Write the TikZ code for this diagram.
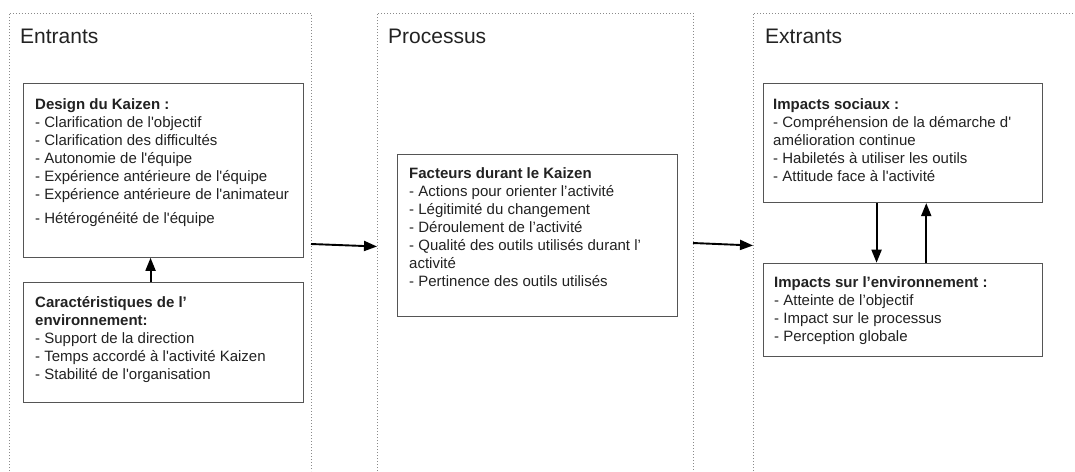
\documentclass[tikz,border=0pt]{standalone}
\usepackage{fontspec}
\setmainfont{Liberation Sans}[Ligatures=TeXOff]
\usetikzlibrary{arrows.meta}
\definecolor{ink}{HTML}{222222}
\definecolor{boxline}{HTML}{555555}
\definecolor{dotline}{HTML}{8A8A8A}
\newcommand{\fl}{\rule{0pt}{12pt}}
\tikzset{
  panel/.style={draw=dotline, line width=0.9pt, dash pattern=on 0.9pt off 2.1pt},
  kbox/.style={draw=boxline, line width=1.1pt, fill=white, inner sep=0pt, anchor=north west},
  ktext/.style={inner sep=0pt, anchor=north west, align=left, text=ink,
                font={\fontsize{15}{18}\selectfont}},
  ptitle/.style={inner sep=0pt, anchor=base west, text=ink,
                 font={\fontsize{21}{25}\selectfont}},
  arr/.style={line width=1.9pt, -{Triangle[length=13pt,width=10pt]}}
}
\begin{document}
\begin{tikzpicture}[x=1pt,y=-1pt]
\useasboundingbox (0,0) rectangle (1075,471);

% three dotted panels, open at the bottom
\draw[panel] (9,471) -- (9,13) -- (311,13) -- (311,471);
\draw[panel] (377,471) -- (377,13) -- (693,13) -- (693,471);
\draw[panel] (753,471) -- (753,13) -- (1080,13);

\node[ptitle] (tin)   at (20,43)  {Entrants};
\node[ptitle] (tproc) at (388,43) {Processus};
\node[ptitle] (tout)  at (765,43) {Extrants};

% inputs
\node[kbox, minimum width=279.4pt, minimum height=174pt] (design) at (23.3,82.7) {};
\node[ktext] (designtxt) at (35,97) {\fl\textbf{Design du Kaizen :}\\
- Clarification de l'objectif\\
- Clarification des difficultés\\
- Autonomie de l'équipe\\
- Expérience antérieure de l'équipe\\
- Expérience antérieure de l'animateur\\[6pt]
- Hétérogénéité de l'équipe};

\node[kbox, minimum width=279.4pt, minimum height=120pt] (env) at (23.3,282.3) {};
\node[ktext] (envtxt) at (35,295.5) {\fl\textbf{Caractéristiques de l’}\\
\textbf{environnement:}\\
- Support de la direction\\
- Temps accordé à l'activité Kaizen\\
- Stabilité de l'organisation};

% process
\node[kbox, minimum width=280pt, minimum height=162.3pt] (fact) at (397.3,153.7) {};
\node[ktext] (facttxt) at (409,166) {\fl\textbf{Facteurs durant le Kaizen}\\
- Actions pour orienter l’activité\\
- Légitimité du changement\\
- Déroulement de l’activité\\
- Qualité des outils utilisés durant l’\\
activité\\
- Pertinence des outils utilisés};

% outputs
\node[kbox, minimum width=278.4pt, minimum height=119.3pt] (soc) at (763.3,82.7) {};
\node[ktext] (soctxt) at (773,97) {\fl\textbf{Impacts sociaux :}\\
- Compréhension de la démarche d'\\
amélioration continue\\
- Habiletés à utiliser les outils\\
- Attitude face à l'activité};

\node[kbox, minimum width=278.4pt, minimum height=93pt] (envi) at (763.3,262.7) {};
\node[ktext] (envitxt) at (774,275.5) {\fl\textbf{Impacts sur l’environnement :}\\
- Atteinte de l’objectif\\
- Impact sur le processus\\
- Perception globale};

% connectors
\coordinate (a1s) at (311,244);
\coordinate (a1e) at (377,246.5);
\coordinate (a2s) at (693,243);
\coordinate (a2e) at (753,245.5);
\draw[arr] (a1s) -- (a1e);
\draw[arr] (a2s) -- (a2e);
\draw[arr] ([xshift=-13pt]env.north) -- ([xshift=-13pt]design.south);
\draw[arr] ([xshift=-26.5pt]soc.south) -- ([xshift=-26.5pt]envi.north);
\draw[arr] ([xshift=23.2pt]envi.north) -- ([xshift=23.2pt]soc.south);
\end{tikzpicture}
\end{document}
